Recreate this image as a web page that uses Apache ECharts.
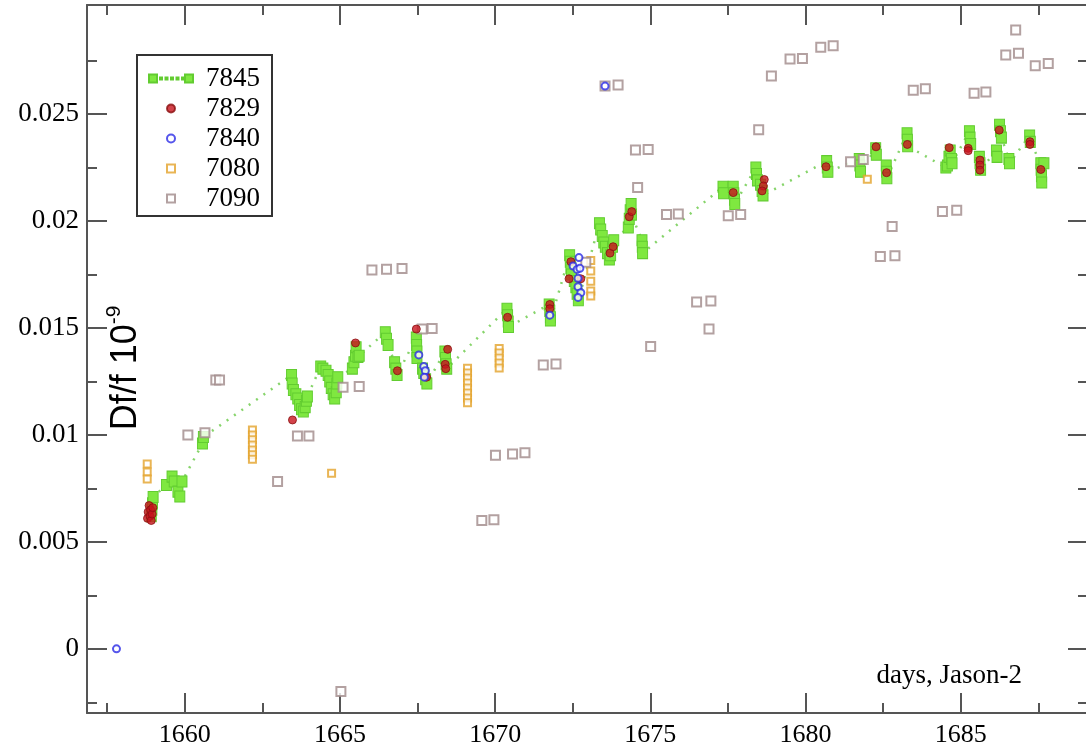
<!DOCTYPE html>
<html>
<head>
<meta charset="utf-8">
<script src="https://cdn.jsdelivr.net/npm/echarts@6/dist/echarts.min.js"></script>
<style>html,body{margin:0;padding:0;background:#fff;}#c{width:1086px;height:749px;}</style>
</head>
<body>
<div id="c"></div>
<script>
// ---- tick values / labels ----
const xMajor = [1660, 1665, 1670, 1675, 1680, 1685];
const xMinor = [1657.5, 1662.5, 1667.5, 1672.5, 1677.5, 1682.5, 1687.5];
const yMajor = [0, 0.005, 0.01, 0.015, 0.02, 0.025];
const yMajorLabels = ['0', '0.005', '0.01', '0.015', '0.02', '0.025'];
const yMinor = [-0.0025, 0.0025, 0.0075, 0.0125, 0.0175, 0.0225, 0.0275];
const seriesNames = ['7845', '7829', '7840', '7080', '7090'];

// ---- series values [day, Df/f] ----
const s7845 = [
  [1658.92,0.0062],[1658.94,0.0065],[1658.96,0.0068],[1658.98,0.0071],
  [1659.41,0.00766],[1659.59,0.00805],[1659.66,0.00782],[1659.78,0.00735],[1659.84,0.00712],[1659.91,0.00782],
  [1660.57,0.0096],[1660.6,0.0099],
  [1663.44,0.0128],[1663.46,0.0124],[1663.5,0.0121],[1663.58,0.0119],[1663.64,0.0117],[1663.7,0.0114],[1663.76,0.0112],[1663.82,0.0111],[1663.88,0.0113],[1663.92,0.0116],[1663.95,0.0118],
  [1664.38,0.0132],[1664.45,0.0131],[1664.55,0.0130],[1664.62,0.0128],[1664.67,0.0125],[1664.72,0.0122],[1664.78,0.0119],[1664.83,0.0117],[1664.88,0.0120],[1664.9,0.0124],[1664.93,0.0127],
  [1665.4,0.0131],[1665.45,0.0134],[1665.5,0.0137],[1665.52,0.0141],[1665.58,0.01365],[1665.62,0.0137],
  [1666.46,0.0148],[1666.5,0.0145],[1666.55,0.0142],
  [1666.76,0.0134],[1666.8,0.0131],[1666.84,0.0128],
  [1667.46,0.01455],[1667.47,0.0142],[1667.48,0.0139],[1667.48,0.0136],
  [1667.66,0.0131],[1667.7,0.0129],[1667.76,0.0126],[1667.8,0.0124],
  [1668.38,0.0139],[1668.4,0.0136],[1668.42,0.0133],[1668.44,0.0131],
  [1670.38,0.0159],[1670.4,0.0156],[1670.42,0.0153],[1670.43,0.01505],
  [1671.74,0.0161],[1671.76,0.0158],[1671.78,0.0155],[1671.78,0.01535],
  [1672.4,0.0184],[1672.42,0.0181],[1672.44,0.0178],[1672.46,0.0175],[1672.55,0.0172],[1672.6,0.0169],[1672.64,0.0166],[1672.68,0.0163],
  [1673.36,0.0199],[1673.4,0.0196],[1673.45,0.0193],[1673.5,0.0190],[1673.55,0.0188],[1673.62,0.0185],[1673.68,0.0182],[1673.72,0.0184],[1673.78,0.0188],[1673.82,0.0191],
  [1674.29,0.0197],[1674.32,0.0201],[1674.35,0.0205],[1674.38,0.0208],[1674.39,0.0203],
  [1674.73,0.0191],[1674.74,0.0188],[1674.75,0.0185],
  [1677.34,0.0216],[1677.36,0.0213],
  [1677.67,0.0216],[1677.69,0.0213],[1677.71,0.0210],[1677.72,0.0208],
  [1678.4,0.0225],[1678.42,0.0222],[1678.45,0.0219],[1678.55,0.0217],[1678.6,0.0214],[1678.63,0.0212],
  [1680.68,0.0228],[1680.7,0.0225],[1680.72,0.0223],
  [1681.73,0.0229],[1681.75,0.0226],[1681.77,0.0223],
  [1682.26,0.0234],[1682.28,0.0231],
  [1682.6,0.0226],[1682.61,0.0223],[1682.62,0.0220],
  [1683.27,0.0241],[1683.28,0.0238],[1683.29,0.0235],
  [1684.52,0.0225],[1684.57,0.0226],[1684.62,0.0230],[1684.66,0.0233],[1684.7,0.0229],[1684.72,0.0227],
  [1685.28,0.0242],[1685.3,0.0239],[1685.32,0.0236],
  [1685.6,0.0230],[1685.62,0.0227],[1685.64,0.0224],
  [1686.15,0.0233],[1686.17,0.0230],
  [1686.25,0.0245],[1686.28,0.0242],[1686.31,0.0239],
  [1686.55,0.0229],[1686.57,0.0227],
  [1687.22,0.0240],[1687.24,0.0237],
  [1687.58,0.0227],[1687.59,0.0224],[1687.6,0.0221],[1687.61,0.0218],[1687.68,0.0227]
];
const s7829 = [
  [1658.8,0.0061],[1658.82,0.0064],[1658.85,0.0067],[1658.88,0.0062],[1658.9,0.0065],[1658.92,0.0060],[1658.95,0.0063],[1658.97,0.0066],
  [1663.47,0.0107],[1665.5,0.0143],[1666.85,0.0130],[1667.46,0.01495],[1667.79,0.0127],
  [1668.47,0.0140],[1668.39,0.0133],[1668.41,0.0131],[1670.4,0.0155],
  [1671.76,0.0161],[1671.76,0.0159],[1672.44,0.0181],[1672.38,0.0173],[1672.76,0.0173],
  [1673.7,0.0185],[1673.8,0.0188],[1674.32,0.0202],[1674.4,0.02044],
  [1677.67,0.02133],[1678.67,0.02194],[1678.64,0.02164],[1678.6,0.02141],
  [1680.66,0.02254],[1682.27,0.02347],[1682.61,0.02226],[1683.28,0.02358],
  [1684.63,0.02343],[1685.24,0.0234],[1685.24,0.02329],
  [1685.62,0.02285],[1685.62,0.02262],[1685.62,0.02238],
  [1686.24,0.02425],[1687.23,0.02371],[1687.23,0.02358],[1687.58,0.02241]
];
const s7840 = [
  [1657.8,0.0],[1667.54,0.01374],[1667.7,0.0132],[1667.75,0.0130],[1667.72,0.0127],
  [1671.76,0.0156],[1672.7,0.01829],[1672.51,0.0179],[1672.64,0.01774],[1672.73,0.01779],
  [1672.67,0.01732],[1672.67,0.01693],[1672.76,0.01665],[1672.67,0.01643],[1673.54,0.02631]
];
const s7080 = [
  [1658.79,0.00864],[1658.79,0.00827],[1658.79,0.00794],
  [1662.18,0.01023],[1662.18,0.0100],[1662.18,0.00977],[1662.18,0.00953],[1662.18,0.0093],[1662.18,0.00907],[1662.18,0.00886],
  [1664.73,0.00821],
  [1669.11,0.01312],[1669.11,0.0129],[1669.11,0.01266],[1669.11,0.01243],[1669.11,0.0122],[1669.11,0.01196],[1669.11,0.01173],[1669.11,0.0115],
  [1670.13,0.01404],[1670.13,0.01383],[1670.13,0.0136],[1670.13,0.01336],[1670.13,0.01313],
  [1673.08,0.01815],[1673.08,0.01766],[1673.08,0.01719],[1673.08,0.01673],[1673.08,0.0165],
  [1681.99,0.02195]
];
const s7090 = [
  [1660.1,0.0100],[1660.65,0.0101],[1661.0,0.01257],[1661.12,0.01257],
  [1662.99,0.00782],[1663.63,0.00995],[1664.0,0.00995],[1665.03,-0.0020],
  [1665.1,0.01223],[1665.62,0.01226],[1666.03,0.01771],[1666.5,0.01775],[1667.0,0.01778],
  [1667.65,0.01495],[1667.97,0.01498],[1669.57,0.0060],[1669.96,0.00603],
  [1670.01,0.00905],[1670.56,0.00911],[1670.96,0.00917],[1671.55,0.01327],[1671.96,0.01332],
  [1672.92,0.01807],[1673.54,0.02631],[1673.96,0.02636],[1674.52,0.02332],[1674.93,0.02335],
  [1674.59,0.02157],[1675.01,0.01413],[1675.52,0.02031],[1675.9,0.02033],
  [1676.49,0.01621],[1676.95,0.01626],[1676.89,0.01495],[1677.51,0.02025],[1677.91,0.0203],
  [1678.49,0.02427],[1678.9,0.02678],[1679.5,0.02757],[1679.9,0.0276],
  [1680.49,0.02812],[1680.89,0.02819],[1681.45,0.02277],[1681.86,0.02288],
  [1682.41,0.01834],[1682.88,0.01838],[1682.79,0.01974],[1683.47,0.02612],[1683.86,0.02618],
  [1684.41,0.02044],[1684.87,0.02051],[1685.43,0.02597],[1685.81,0.02603],
  [1686.45,0.02776],[1686.86,0.02784],[1686.77,0.02893],[1687.4,0.02726],[1687.82,0.02737]
];

const X_MIN = 1656.85, X_MAX = 1689.1;
const Y_MIN = -0.003, Y_MAX = 0.0301;
const axisColor = '#555';
const serif = 'Liberation Serif';

function xAx(position, ticks, len, showLine, labels) {
  return {
    type: 'value', min: X_MIN, max: X_MAX, position: position, gridIndex: 0,
    axisLine: { show: showLine, onZero: false, lineStyle: { color: axisColor, width: 2 } },
    axisTick: { show: true, inside: true, length: len, customValues: ticks, lineStyle: { color: axisColor, width: 2 } },
    axisLabel: labels ? { show: true, customValues: ticks, margin: 9, fontFamily: serif, fontSize: 26, color: '#000',
      formatter: function (v) { return String(Math.round(v)); } } : { show: false },
    splitLine: { show: false }
  };
}
function yAx(position, ticks, len, showLine, labels) {
  return {
    type: 'value', min: Y_MIN, max: Y_MAX, position: position, gridIndex: 0,
    axisLine: { show: showLine, onZero: false, lineStyle: { color: axisColor, width: 2 } },
    axisTick: { show: true, inside: true, length: len, customValues: ticks, lineStyle: { color: axisColor, width: 2 } },
    axisLabel: labels ? { show: true, customValues: ticks, margin: 8, fontFamily: serif, fontSize: 27, color: '#000',
      formatter: function (v) {
        const i = yMajor.findIndex(function (t) { return Math.abs(t - v) < 1e-9; });
        return i >= 0 ? yMajorLabels[i] : '';
      } } : { show: false },
    splitLine: { show: false }
  };
}

const greenIcon = 'path://M0,0h8v8h-8z M11,3h2v2h-2z M16.5,3h2v2h-2z M22,3h2v2h-2z M27.5,3h2v2h-2z M33,3h2v2h-2z M36,0h8v8h-8z';
const squareIcon = 'path://M0,0h8v8h-8z';

const option = {
  animation: false,
  backgroundColor: '#fff',
  grid: { left: 87, top: 5, width: 1001, height: 708, containLabel: false, outerBoundsMode: 'none' },
  xAxis: [
    xAx('bottom', xMajor, 20, true, true),
    xAx('bottom', xMinor, 10, false, false),
    xAx('top', xMajor, 20, true, false),
    xAx('top', xMinor, 10, false, false)
  ],
  yAxis: [
    yAx('left', yMajor, 20, true, true),
    yAx('left', yMinor, 10, false, false),
    yAx('right', yMajor, 20, true, false),
    yAx('right', yMinor, 10, false, false)
  ],
  legend: {
    orient: 'vertical', left: 137, top: 55,
    padding: [10, 12, 4, 11],
    borderColor: '#333', borderWidth: 2, backgroundColor: '#fff',
    itemWidth: 44, itemHeight: 8, itemGap: 3, itemTextGap: 13,
    symbolKeepAspect: true,
    textStyle: { fontFamily: serif, fontSize: 27, color: '#000', padding: [0, 0, 0, 8] },
    data: [
      { name: seriesNames[0], icon: greenIcon },
      { name: seriesNames[1], icon: 'circle' },
      { name: seriesNames[2], icon: 'circle' },
      { name: seriesNames[3], icon: squareIcon },
      { name: seriesNames[4], icon: squareIcon }
    ]
  },
  graphic: [
    {
      type: 'text', x: 124, y: 368, rotation: Math.PI / 2, z: 10,
      style: {
        text: '{a|Df/f 10}{b|-9}',
        align: 'center', verticalAlign: 'middle',
        rich: {
          a: { fontFamily: 'Liberation Sans', fontSize: 36, fill: '#000', verticalAlign: 'bottom', lineHeight: 40 },
          b: { fontFamily: 'Liberation Sans', fontSize: 21, fill: '#000', verticalAlign: 'top', lineHeight: 40 }
        }
      }
    },
    {
      type: 'text', x: 1022, y: 689, z: 10,
      style: { text: 'days, Jason-2', align: 'right', verticalAlign: 'bottom', fontFamily: serif, fontSize: 27, fill: '#000' }
    }
  ],
  series: [
    {
      name: seriesNames[0], type: 'line', data: s7845, xAxisIndex: 0, yAxisIndex: 0,
      symbol: 'rect', symbolSize: [10, 11], showSymbol: true, showAllSymbol: true,
      itemStyle: { color: '#7fe840', borderColor: '#62cc30', borderWidth: 1 },
      lineStyle: { color: '#86d46a', width: 2.5, type: [2, 7] },
      z: 2
    },
    {
      name: seriesNames[1], type: 'scatter', data: s7829, xAxisIndex: 0, yAxisIndex: 0,
      symbol: 'circle', symbolSize: 8,
      itemStyle: { color: '#c8141e', borderColor: '#8a1010', borderWidth: 1 },
      z: 4
    },
    {
      name: seriesNames[2], type: 'scatter', data: s7840, xAxisIndex: 0, yAxisIndex: 0,
      symbol: 'circle', symbolSize: 7,
      itemStyle: { color: '#ffffff', borderColor: '#2a2ae6', borderWidth: 2 },
      z: 5
    },
    {
      name: seriesNames[3], type: 'scatter', data: s7080, xAxisIndex: 0, yAxisIndex: 0,
      symbol: 'rect', symbolSize: 7,
      itemStyle: { color: '#ffffff', borderColor: '#e3a32a', borderWidth: 2 },
      z: 3
    },
    {
      name: seriesNames[4], type: 'scatter', data: s7090, xAxisIndex: 0, yAxisIndex: 0,
      symbol: 'rect', symbolSize: 9,
      itemStyle: { color: '#ffffff', borderColor: '#a08a8a', borderWidth: 2 },
      z: 3
    }
  ]
};

const chart = echarts.init(document.getElementById('c'), null, { renderer: 'canvas' });
chart.setOption(option);
</script>
</body>
</html>
